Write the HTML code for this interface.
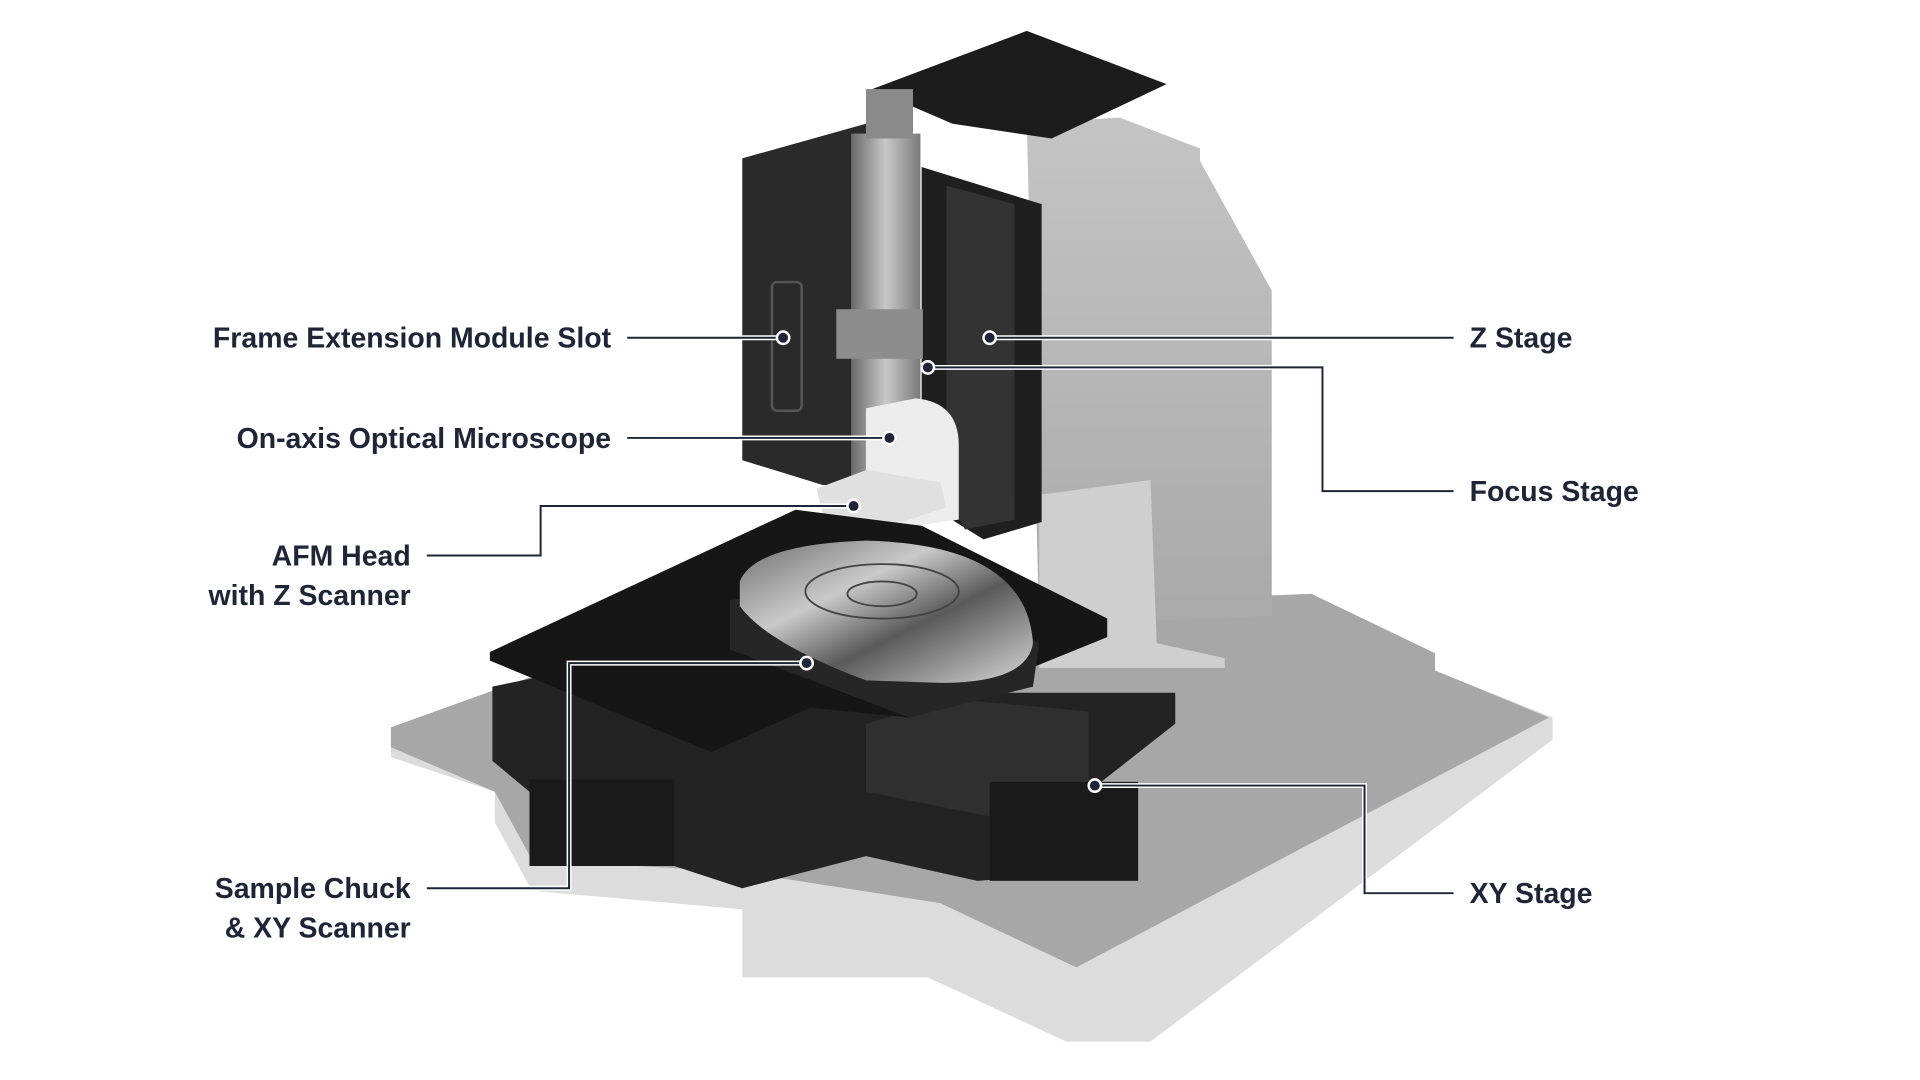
<!DOCTYPE html>
<html><head><meta charset="utf-8"><style>
html,body{margin:0;padding:0;background:#fff;}
svg{display:block}
text{font-family:"Liberation Sans",sans-serif;font-weight:bold;font-size:23px;fill:#1d2536;}
</style></head><body>
<svg width="1920" height="1080" viewBox="0 0 1552 873" xmlns="http://www.w3.org/2000/svg">
<defs>
<linearGradient id="chrome" x1="0" y1="0" x2="1" y2="1">
<stop offset="0" stop-color="#6e6e6e"/><stop offset="0.35" stop-color="#c9c9c9"/><stop offset="0.6" stop-color="#5a5a5a"/><stop offset="1" stop-color="#d6d6d6"/></linearGradient>
<linearGradient id="col" x1="0" y1="0" x2="1" y2="0">
<stop offset="0" stop-color="#6a6a6a"/><stop offset="0.5" stop-color="#c8c8c8"/><stop offset="1" stop-color="#7a7a7a"/></linearGradient>
<linearGradient id="tower" x1="0" y1="0" x2="0" y2="1">
<stop offset="0" stop-color="#c4c4c4"/><stop offset="1" stop-color="#a9a9a9"/></linearGradient>
</defs>
<!-- base -->
<polygon points="316,588 560,500 1060,480 1160,528 1160,542 1255,580 1255,598 930,842 862,842 750,790 600,790 600,735 430,720 400,665 400,640 316,612" fill="#dcdcdc"/>
<polygon points="316,588 560,500 1060,480 1160,528 1160,542 1252,580 870,782 760,730 600,705 430,695 400,640 316,604" fill="#a7a7a7"/>
<!-- tower -->
<polygon points="830,100 905,95 970,120 970,130 1028,235 1028,498 840,505" fill="url(#tower)"/>
<polygon points="840,400 930,388 935,520 990,532 990,540 840,540" fill="#cfcfcf"/>
<!-- top plate -->
<polygon points="705,72 830,25 943,68 850,112 770,100" fill="#1c1c1c"/>
<!-- head housing -->
<polygon points="600,128 700,100 700,392 665,392 600,372" fill="#2a2a2a"/>
<rect x="624" y="228" width="24" height="104" rx="4" fill="none" stroke="#555" stroke-width="2"/>
<polygon points="745,135 842,165 842,422 795,436 745,405" fill="#1f1f1f"/>
<polygon points="765,150 820,165 820,420 780,428 765,400" fill="#333"/>
<!-- microscope -->
<rect x="688" y="108" width="56" height="290" fill="url(#col)"/>
<rect x="700" y="72" width="38" height="40" fill="#8a8a8a"/>
<rect x="676" y="250" width="70" height="40" fill="#8d8d8d"/>
<path d="M700,330 L740,322 Q775,325 775,360 L775,420 L740,425 L700,420 Z" fill="#ececec"/>
<path d="M660,395 L700,380 L760,390 L765,410 L720,425 L665,415 Z" fill="#e0e0e0"/>
<!-- stage blocks -->
<polygon points="398,555 470,540 700,560 950,560 950,585 880,640 880,705 790,712 700,692 600,718 545,700 430,700 428,640 398,615" fill="#232323"/>
<polygon points="700,585 770,565 880,575 880,650 800,660 700,640" fill="#2f2f2f"/>
<rect x="428" y="630" width="117" height="70" fill="#1a1a1a"/>
<rect x="800" y="632" width="120" height="80" fill="#1a1a1a"/>
<!-- stage plate -->
<polygon points="396,527 643,412 745,425 895,500 895,515 735,580 655,572 575,608 396,534" fill="#161616"/>
<!-- chuck -->
<polygon points="590,485 760,470 840,520 835,555 735,580 590,525" fill="#262626"/>
<path d="M598,470 Q610,440 700,437 Q830,440 835,520 Q830,552 760,552 L700,550 Q620,520 598,490 Z" fill="url(#chrome)"/>
<ellipse cx="713" cy="478" rx="62" ry="22" fill="none" stroke="#444" stroke-width="1.5"/>
<ellipse cx="713" cy="480" rx="28" ry="10" fill="none" stroke="#444" stroke-width="1.5"/>
<!-- connectors -->
<g fill="none" stroke="#fff" stroke-width="4">
<path d="M507,273 H633"/><path d="M507,354 H719"/>
<path d="M345,449 H437 V409 H690"/><path d="M345,718 H460 V536 H652"/>
<path d="M800,273 H1175"/><path d="M750,297 H1069 V397 H1175"/>
<path d="M885,635 H1103 V722 H1175"/>
</g>
<g fill="none" stroke="#1d2536" stroke-width="1.6">
<path d="M507,273 H633"/><path d="M507,354 H719"/>
<path d="M345,449 H437 V409 H690"/><path d="M345,718 H460 V536 H652"/>
<path d="M800,273 H1175"/><path d="M750,297 H1069 V397 H1175"/>
<path d="M885,635 H1103 V722 H1175"/>
</g>
<g fill="#1d2536" stroke="#fff" stroke-width="2">
<circle cx="633" cy="273" r="5"/><circle cx="719" cy="354" r="5"/>
<circle cx="690" cy="409" r="5"/><circle cx="652" cy="536" r="5"/>
<circle cx="800" cy="273" r="5"/><circle cx="750" cy="297" r="5"/>
<circle cx="885" cy="635" r="5"/>
</g>
<!-- labels -->
<g text-anchor="end">
<text x="494" y="281">Frame Extension Module Slot</text>
<text x="494" y="362">On-axis Optical Microscope</text>
<text x="332" y="457">AFM Head</text>
<text x="332" y="489">with Z Scanner</text>
<text x="332" y="726">Sample Chuck</text>
<text x="332" y="758">&amp; XY Scanner</text>
</g>
<text x="1188" y="281">Z Stage</text>
<text x="1188" y="405">Focus Stage</text>
<text x="1188" y="730">XY Stage</text>
</svg>
</body></html>
